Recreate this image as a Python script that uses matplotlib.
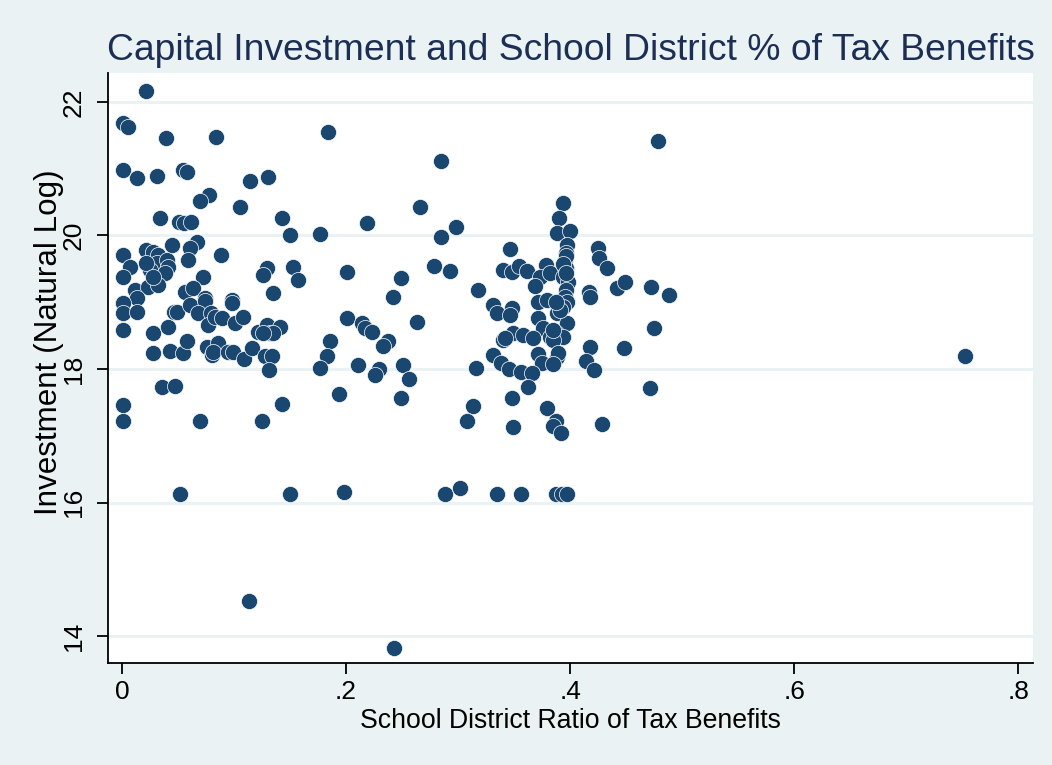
import matplotlib
matplotlib.use("Agg")
import matplotlib.pyplot as plt
from matplotlib import font_manager

# ---- data ----
ratio = [
    .021, .001, .005, .039, .084, .184, .001, .013, .031, .054, .058, .114, .130, .078, .070, .105,
    .034, .051, .055, .062, .143, .150, .177, .088, .001, .021, .028, .032, .031, .025, .021, .040,
    .041, .038, .007, .001, .045, .067, .061, .059, .072, .129, .126, .153, .157, .201, .012, .023,
    .032, .028, .056, .063, .074, .098, .135, .013, .001, .001, .013, .001, .028, .041, .046, .049,
    .061, .074, .068, .079, .077, .083, .089, .098, .101, .108, .121, .129, .132, .141, .135, .126,
    .201, .186, .183, .177, .028, .043, .054, .058, .076, .080, .086, .081, .095, .099, .109, .116,
    .128, .134, .131, .036, .047, .001, .001, .070, .125, .143, .194, .052, .150, .198, .113,
    .285, .219, .266, .285, .298, .249, .242, .278, .293, .318, .214, .217, .223, .263, .237, .233,
    .211, .229, .226, .251, .256, .249, .316, .313, .308, .288, .302, .243,
    .340, .331, .335, .331, .335, .394, .390, .388, .400, .346, .348, .354, .361, .348, .346, .378,
    .373, .369, .382, .397, .396, .395, .396, .394, .398, .396, .395, .397, .394, .388, .397, .396,
    .394, .396, .391, .388, .371, .379, .387, .371, .376, .387, .394, .382, .425, .426, .433, .417,
    .418, .442, .449, .472, .488, .475, .340, .349, .358, .367, .418, .448, .385, .389, .338, .345,
    .371, .375, .385, .356, .366, .414, .421, .362, .471, .348, .379, .349, .387, .385, .392, .428,
    .356, .387, .393, .397, .385, .342, .478, .752,
]
investment = [
    22.16, 21.69, 21.63, 21.46, 21.48, 21.55, 20.98, 20.86, 20.89, 20.98, 20.95, 20.82, 20.88, 20.61, 20.52, 20.43,
    20.26, 20.20, 20.19, 20.20, 20.26, 20.01, 20.02, 19.71, 19.71, 19.78, 19.75, 19.71, 19.59, 19.48, 19.59, 19.63,
    19.53, 19.44, 19.53, 19.38, 19.86, 19.90, 19.81, 19.63, 19.38, 19.51, 19.41, 19.53, 19.33, 19.45, 19.18, 19.23,
    19.26, 19.38, 19.15, 19.21, 19.06, 19.03, 19.14, 19.06, 18.99, 18.84, 18.85, 18.58, 18.54, 18.63, 18.85, 18.85,
    18.96, 19.02, 18.84, 18.84, 18.66, 18.78, 18.76, 18.99, 18.69, 18.78, 18.55, 18.66, 18.54, 18.63, 18.54, 18.54,
    18.76, 18.42, 18.20, 18.01, 18.24, 18.27, 18.24, 18.42, 18.33, 18.21, 18.39, 18.25, 18.25, 18.25, 18.15, 18.31,
    18.20, 18.20, 17.99, 17.73, 17.75, 17.46, 17.22, 17.22, 17.22, 17.48, 17.63, 16.13, 16.13, 16.16, 14.52,
    21.12, 20.19, 20.43, 19.98, 20.13, 19.36, 19.08, 19.54, 19.47, 19.18, 18.69, 18.61, 18.55, 18.70, 18.42, 18.34,
    18.06, 18.00, 17.91, 18.06, 17.85, 17.57, 18.01, 17.45, 17.22, 16.13, 16.22, 13.82,
    19.48, 18.96, 18.84, 18.21, 16.13, 20.49, 20.26, 20.04, 20.07, 19.80, 19.45, 19.54, 19.47, 18.91, 18.81, 19.56,
    19.38, 19.24, 19.44, 19.86, 19.74, 19.63, 19.51, 19.38, 19.30, 19.18, 19.08, 19.00, 18.93, 18.84, 18.69, 19.70,
    19.57, 19.44, 18.88, 18.18, 19.00, 19.03, 19.00, 18.76, 18.61, 18.54, 18.48, 18.48, 19.81, 19.66, 19.51, 19.15,
    19.08, 19.21, 19.30, 19.23, 19.11, 18.61, 18.43, 18.54, 18.51, 18.46, 18.33, 18.31, 18.43, 18.24, 18.09, 18.00,
    18.22, 18.09, 18.07, 17.96, 17.94, 18.12, 17.99, 17.73, 17.71, 17.57, 17.42, 17.13, 17.22, 17.15, 17.04, 17.18,
    16.13, 16.13, 16.13, 16.13, 18.58, 18.46, 21.42, 18.19,
]
x_ticks = [0, 0.2, 0.4, 0.6, 0.8]
x_ticklabels = ["0", ".2", ".4", ".6", ".8"]
y_ticks = [14, 16, 18, 20, 22]
y_ticklabels = ["14", "16", "18", "20", "22"]
title = "Capital Investment and School District % of Tax Benefits"
xlabel = "School District Ratio of Tax Benefits"
ylabel = "Investment (Natural Log)"

# ---- style ----
names = {f.name for f in font_manager.fontManager.ttflist}
if "Liberation Sans Narrow" in names:
    FONT = "Liberation Sans Narrow"
elif "Liberation Sans" in names:
    FONT = "Liberation Sans"
else:
    FONT = "DejaVu Sans"
plt.rcParams["font.family"] = [FONT, "DejaVu Sans"]

BG = "#eaf2f3"
NAVY = "#1a476f"
W, H = 1052, 765
fig = plt.figure(figsize=(W / 100, H / 100), dpi=100, facecolor=BG)
ax = fig.add_axes([108 / W, 1 - 663 / H, (1033 - 108) / W, (663 - 73) / H])
ax.set_facecolor("white")

ax.scatter(ratio, investment, s=135, c=NAVY, edgecolors="white", linewidths=0.5, zorder=3)

ax.set_xlim(-0.0125, 0.813)
ax.set_ylim(13.596, 22.434)
ax.set_xticks(x_ticks)
ax.set_xticklabels(x_ticklabels)
ax.set_yticks(y_ticks)
ax.set_yticklabels(y_ticklabels, rotation=90, va="center")
ax.grid(axis="y", color=BG, linewidth=2.2, zorder=0)
ax.set_axisbelow(True)

for side in ("top", "right"):
    ax.spines[side].set_visible(False)
for side in ("left", "bottom"):
    ax.spines[side].set_linewidth(1.3)
    ax.spines[side].set_color("black")
ax.tick_params(axis="both", direction="out", length=8, width=1.3, labelsize=19, colors="black")
ax.tick_params(axis="y", pad=8)
ax.tick_params(axis="x", pad=4)

# text, sized to fit the reference widths
renderer = fig.canvas.get_renderer()

def fit(t, target_px, horizontal=True):
    bb = t.get_window_extent(renderer)
    cur = bb.width if horizontal else bb.height
    t.set_fontsize(t.get_fontsize() * target_px / cur)

tt = fig.text((108 + 1033) / 2 / W, 1 - 50 / H, title, ha="center", va="center",
              fontsize=26, color="#1c2e54")
fit(tt, 926)
xl = fig.text(570 / W, 1 - 721 / H, xlabel, ha="center", va="center", fontsize=18)
fit(xl, 420)
yl = fig.text(49 / W, 1 - 342 / H, ylabel, ha="center", va="center", rotation=90, fontsize=18)
fit(yl, 345, horizontal=False)

fig.savefig("out.png", dpi=100, facecolor=BG)
